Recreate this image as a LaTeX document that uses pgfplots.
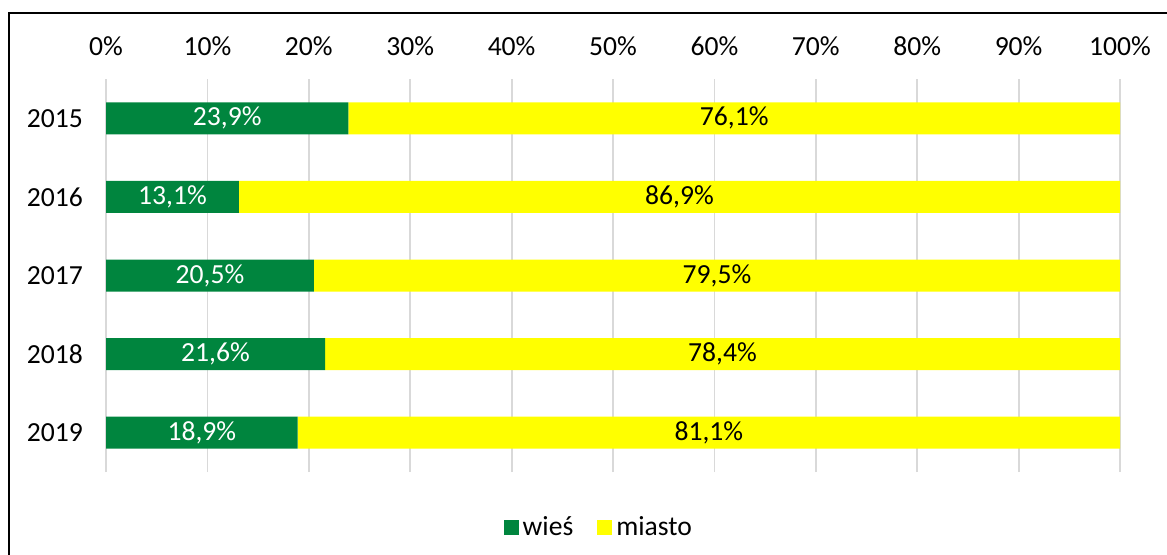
\documentclass[border=0pt]{standalone}
\usepackage{pgfplots}
\usepackage{pgfplotstable}
\pgfplotsset{compat=1.18}
\usepackage{fontspec}
\setmainfont{Carlito}
\definecolor{wgreen}{RGB}{0,133,62}
\definecolor{myellow}{RGB}{255,255,0}
\definecolor{gridgray}{RGB}{217,217,217}
\pgfplotstableread{
pos wies miasto
4 23.9 76.1
3 13.1 86.9
2 20.5 79.5
1 21.6 78.4
0 18.9 81.1
}\data
\begin{document}
\begin{tikzpicture}
\useasboundingbox (0pt,0pt) rectangle (583.5pt,-277.5pt);
\draw[line width=1pt] (4.5pt,-300pt) -- (4.5pt,-6.5pt) -- (600pt,-6.5pt);
\begin{axis}[
  at={(53pt,-236pt)}, anchor=south west,
  scale only axis, width=507pt, height=196.5pt,
  xbar stacked, bar width=16pt,
  xmin=0, xmax=100, ymin=-0.5, ymax=4.5,
  axis line style={draw=none}, tick style={draw=none},
  xmajorgrids, grid style={gridgray, line width=0.9pt},
  xtick={0,10,...,100},
  xticklabels={0\%,10\%,20\%,30\%,40\%,50\%,60\%,70\%,80\%,90\%,100\%},
  xticklabel pos=upper,
  xticklabel style={yshift=8pt},
  ytick={0,1,2,3,4},
  yticklabels={2019,2018,2017,2016,2015},
  yticklabel style={xshift=-8pt},
  tick label style={font=\fontsize{13.8}{16}\selectfont},
  legend style={at={(0.487,-0.142)}, anchor=center, draw=none,
    legend columns=2, font=\fontsize{13.8}{16}\selectfont,
    /tikz/every even column/.append style={column sep=10pt}},
  legend image code/.code={\fill[#1] (0pt,-3.75pt) rectangle (7.5pt,3.75pt);},
]
\addplot[fill=wgreen, draw=none] table[x=wies, y=pos] {\data};
\addplot[fill=myellow, draw=none] table[x=miasto, y=pos] {\data};
\legend{wieś, miasto}
\end{axis}
\begin{axis}[
  at={(53pt,-236pt)}, anchor=south west,
  scale only axis, width=507pt, height=196.5pt,
  xmin=0, xmax=100, ymin=-0.5, ymax=4.5,
  hide axis, clip=false,
  nodes near coords, nodes near coords align=center,
  /pgf/number format/assume math mode=true,
  every node near coord/.append style={anchor=center, font=\fontsize{13.8}{16}\selectfont},
]
\addplot[draw=none, mark=none, point meta=\thisrow{wies},
  nodes near coords={\pgfmathprintnumber[fixed,fixed zerofill,precision=1,use comma,assume math mode=true]{\pgfplotspointmeta}\%},
  every node near coord/.append style={text=white}]
  table[x expr=\thisrow{wies}/2, y=pos] {\data};
\addplot[draw=none, mark=none, point meta=\thisrow{miasto},
  nodes near coords={\pgfmathprintnumber[fixed,fixed zerofill,precision=1,use comma,assume math mode=true]{\pgfplotspointmeta}\%},
  every node near coord/.append style={text=black}]
  table[x expr=\thisrow{wies}+\thisrow{miasto}/2, y=pos] {\data};
\end{axis}
\end{tikzpicture}
\end{document}
